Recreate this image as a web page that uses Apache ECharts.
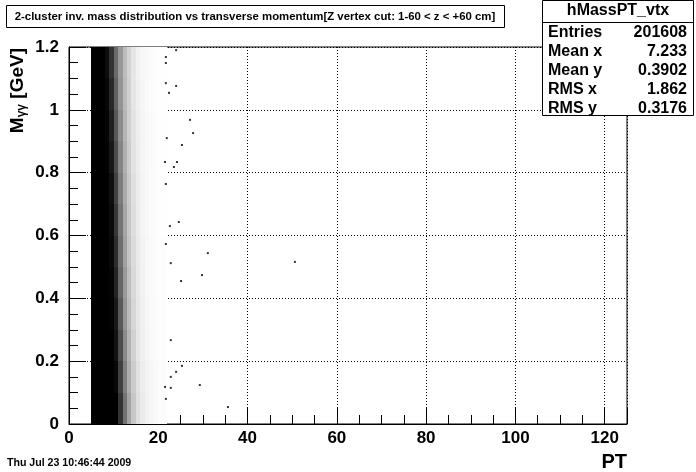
<!DOCTYPE html>
<html>
<head>
<meta charset="utf-8">
<script src="https://cdn.jsdelivr.net/npm/echarts@6/dist/echarts.min.js"></script>
<style>html,body{margin:0;padding:0;background:#fff;}#c{width:696px;height:472px;}</style>
</head>
<body>
<div id="c"></div>
<script>
// ---- data ----
const titleText = '2-cluster inv. mass distribution vs transverse momentum[Z vertex cut: 1-60 < z < +60 cm]';
const statsName = 'hMassPT_vtx';
const statsLabels = ['Entries', 'Mean x', 'Mean y', 'RMS x', 'RMS y'];
const statsValues = ['201608', '7.233', '0.3902', '1.862', '0.3176'];
const xTicks = [0, 20, 40, 60, 80, 100, 120];
const yTicks = [0, 0.2, 0.4, 0.6, 0.8, 1.0, 1.2];

// PT bin edges and M bin edges of the (estimated) density picture
const ptEdges = [5, 6, 7, 8, 9, 10, 11, 12, 13, 14, 15, 16, 17, 18, 19, 20, 22];
const massEdges = [0, 0.1, 0.2, 0.3, 0.4, 0.5, 0.6, 0.7, 0.8, 0.9, 1.0, 1.1, 1.2];
// fraction of ink in each cell, one row per mass bin (bottom to top)
const density = [
  [1, 1, 1, 1, 1, 1, 0.8, 0.55, 0.36, 0.22, 0.13, 0.08, 0.05, 0.03, 0.02, 0.01],
  [1, 1, 1, 1, 1, 0.97, 0.75, 0.5, 0.32, 0.2, 0.12, 0.07, 0.045, 0.03, 0.02, 0.01],
  [1, 1, 1, 1, 1, 0.93, 0.7, 0.46, 0.3, 0.18, 0.1, 0.06, 0.04, 0.025, 0.015, 0.008],
  [1, 1, 1, 1, 0.99, 0.9, 0.65, 0.42, 0.27, 0.16, 0.095, 0.055, 0.035, 0.02, 0.015, 0.008],
  [1, 1, 1, 1, 0.98, 0.86, 0.6, 0.4, 0.25, 0.15, 0.09, 0.05, 0.03, 0.02, 0.012, 0.006],
  [1, 1, 1, 1, 0.97, 0.82, 0.57, 0.37, 0.23, 0.14, 0.085, 0.05, 0.03, 0.018, 0.012, 0.006],
  [1, 1, 1, 1, 0.96, 0.78, 0.54, 0.35, 0.22, 0.13, 0.08, 0.045, 0.028, 0.016, 0.01, 0.005],
  [1, 1, 1, 1, 0.94, 0.74, 0.51, 0.33, 0.21, 0.12, 0.075, 0.045, 0.026, 0.015, 0.01, 0.005],
  [1, 1, 1, 0.99, 0.91, 0.7, 0.48, 0.31, 0.2, 0.11, 0.07, 0.04, 0.024, 0.015, 0.01, 0.005],
  [1, 1, 1, 0.98, 0.88, 0.66, 0.45, 0.29, 0.19, 0.11, 0.065, 0.04, 0.022, 0.014, 0.01, 0.005],
  [1, 1, 1, 0.97, 0.84, 0.62, 0.42, 0.27, 0.18, 0.1, 0.06, 0.035, 0.02, 0.013, 0.008, 0.004],
  [1, 1, 1, 0.95, 0.8, 0.58, 0.4, 0.26, 0.17, 0.1, 0.055, 0.032, 0.02, 0.012, 0.008, 0.004]
];
// isolated entries at larger PT
const stragglerPT = [24.0, 21.7, 21.7, 21.7, 24.0, 22.4, 27.1, 27.8, 21.9, 25.3, 24.2, 23.5, 21.5, 21.7, 24.6, 22.6, 21.7, 31.1, 22.8, 50.6, 29.8, 25.1, 22.8, 25.3, 24.0, 22.8, 22.8, 29.3, 21.7, 35.6, 21.5];
const stragglerM  = [1.19, 1.168, 1.149, 1.085, 1.076, 1.054, 0.968, 0.926, 0.910, 0.888, 0.834, 0.818, 0.834, 0.764, 0.643, 0.630, 0.573, 0.544, 0.512, 0.516, 0.474, 0.455, 0.267, 0.185, 0.166, 0.150, 0.115, 0.124, 0.080, 0.054, 0.118];

// ---- build ----
const cells = [];
for (let j = 0; j < massEdges.length - 1; j++) {
  for (let i = 0; i < ptEdges.length - 1; i++) {
    cells.push([ptEdges[i], ptEdges[i + 1], massEdges[j], massEdges[j + 1], density[j][i]]);
  }
}
const stragglers = stragglerPT.map((x, k) => [x, stragglerM[k]]);

const FONT = '"Liberation Sans", Arial, sans-serif';
const chart = echarts.init(document.getElementById('c'), null, { renderer: 'canvas' });
const gridL = 69, gridT = 47, gridW = 558, gridH = 377;

const statsGraphics = [];
statsGraphics.push({ type: 'rect', shape: { x: 542.5, y: 0.5, width: 151, height: 115 }, style: { fill: '#fff', stroke: '#000', lineWidth: 1 }, z: 10 });
statsGraphics.push({ type: 'line', shape: { x1: 542.5, y1: 22.5, x2: 693.5, y2: 22.5 }, style: { stroke: '#000', lineWidth: 1 }, z: 11 });
statsGraphics.push({ type: 'text', x: 618, y: 11, style: { text: statsName, font: 'bold 16px ' + FONT, fill: '#000', align: 'center', verticalAlign: 'middle' }, z: 11 });
statsLabels.forEach((lab, k) => {
  const yy = 33 + k * 18.8;
  statsGraphics.push({ type: 'text', x: 548, y: yy, style: { text: lab, font: 'bold 16px ' + FONT, fill: '#000', align: 'left', verticalAlign: 'middle' }, z: 11 });
  statsGraphics.push({ type: 'text', x: 687, y: yy, style: { text: statsValues[k], font: 'bold 16px ' + FONT, fill: '#000', align: 'right', verticalAlign: 'middle' }, z: 11 });
});

const option = {
  backgroundColor: '#fff',
  animation: false,
  grid: { left: gridL, top: gridT, width: gridW, height: gridH, show: true, borderColor: '#000', borderWidth: 1, backgroundColor: 'transparent', containLabel: false },
  xAxis: {
    type: 'value', min: 0, max: 125, interval: 20,
    axisLine: { show: true, onZero: false, lineStyle: { color: '#000', width: 1 } },
    axisTick: { show: true, inside: true, length: 17, lineStyle: { color: '#000' } },
    minorTick: { show: true, splitNumber: 4, length: 9, lineStyle: { color: '#000' } },
    splitLine: { show: true, lineStyle: { color: '#000', width: 1, type: [1, 2] } },
    axisLabel: { color: '#000', fontFamily: FONT, fontWeight: 'bold', fontSize: 17, margin: 6, showMaxLabel: false,
      formatter: v => xTicks.indexOf(v) >= 0 ? String(v) : '' }
  },
  yAxis: {
    type: 'value', min: 0, max: 1.2, interval: 0.2,
    axisLine: { show: true, onZero: false, lineStyle: { color: '#000', width: 1 } },
    axisTick: { show: true, inside: true, length: 17, lineStyle: { color: '#000' } },
    minorTick: { show: true, splitNumber: 4, length: 9, lineStyle: { color: '#000' } },
    splitLine: { show: true, lineStyle: { color: '#000', width: 1, type: [1, 2] } },
    axisLabel: { color: '#000', fontFamily: FONT, fontWeight: 'bold', fontSize: 17, margin: 10,
      formatter: v => { const t = yTicks.find(q => Math.abs(q - v) < 1e-6); return t === undefined ? '' : String(+t.toFixed(1)); } }
  },
  series: [
    {
      type: 'custom',
      data: cells,
      clip: true,
      renderItem: (params, api) => {
        const p0 = api.coord([api.value(0), api.value(3)]);
        const p1 = api.coord([api.value(1), api.value(2)]);
        const x0 = Math.round(p0[0]), y0 = Math.round(p0[1]);
        const x1 = Math.round(p1[0]), y1 = Math.round(p1[1]);
        const d = api.value(4);
        const g = Math.round(255 * (1 - d));
        return { type: 'rect', shape: { x: x0, y: y0, width: x1 - x0, height: y1 - y0 }, style: { fill: 'rgb(' + g + ',' + g + ',' + g + ')' } };
      },
      z: 2
    },
    {
      type: 'scatter', data: stragglers, symbol: 'rect', symbolSize: 2,
      itemStyle: { color: '#000' }, z: 3
    }
  ],
  graphic: [
    { type: 'rect', shape: { x: 6.5, y: 5.5, width: 498, height: 22 }, style: { fill: '#fff', stroke: '#000', lineWidth: 1 } },
    { type: 'text', x: 255, y: 16.5, style: { text: titleText, font: 'bold 11.4px ' + FONT, fill: '#000', align: 'center', verticalAlign: 'middle' } },
    { type: 'text', x: 7, y: 463, style: { text: 'Thu Jul 23 10:46:44 2009', font: 'bold 10.6px ' + FONT, fill: '#000', align: 'left', verticalAlign: 'middle' } },
    { type: 'text', x: 627, y: 462, style: { text: 'PT', font: 'bold 20px ' + FONT, fill: '#000', align: 'right', verticalAlign: 'middle' } },
    { type: 'text', x: 18, y: 48, rotation: Math.PI / 2,
      style: { text: '{m|M}{s|γγ}{m| [GeV]}', align: 'right', verticalAlign: 'middle',
        rich: { m: { font: 'bold 19px ' + FONT, fill: '#000', verticalAlign: 'bottom' }, s: { font: 'bold 12px ' + FONT, fill: '#000', verticalAlign: 'bottom' } } } }
  ].concat(statsGraphics)
};
chart.setOption(option);
</script>
</body>
</html>
